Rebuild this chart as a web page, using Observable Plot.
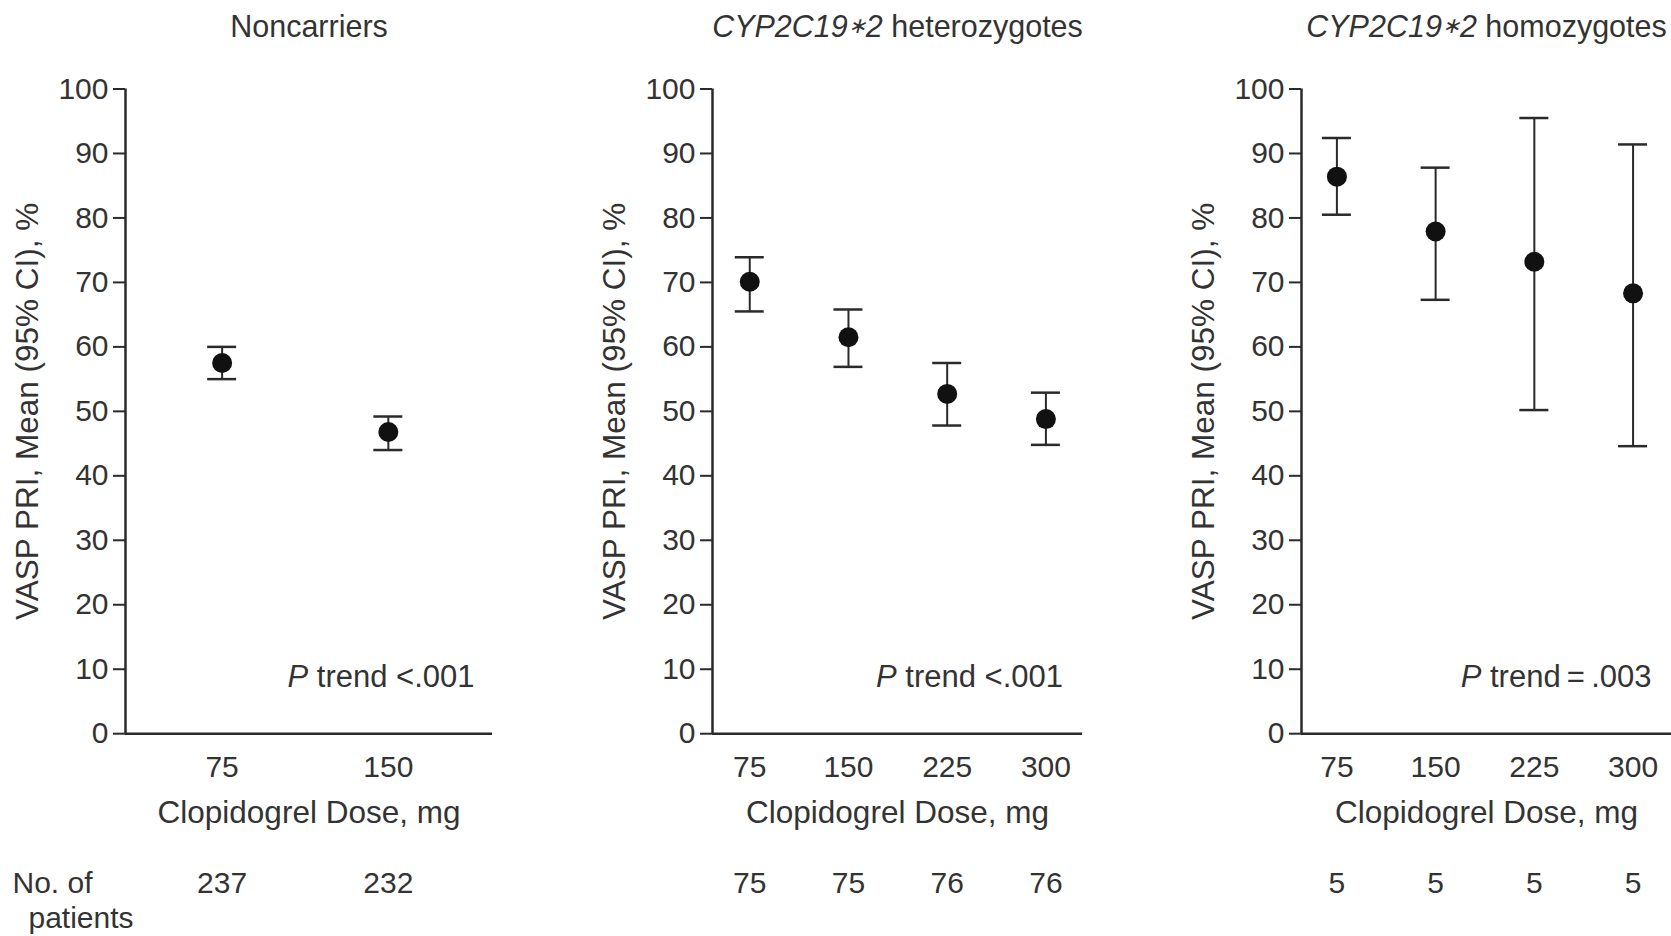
<!DOCTYPE html>
<html><head><meta charset="utf-8">
<script src="https://cdn.jsdelivr.net/npm/d3@7"></script>
<script src="https://cdn.jsdelivr.net/npm/@observablehq/plot@0.6"></script>
<style>
body{margin:0;background:#fff;}
#wrap{position:relative;width:1671px;height:936px;overflow:hidden;background:#fff;}
#wrap svg{position:absolute;top:0;overflow:visible;}
</style></head><body><div id="wrap"></div>
<script>
// ---- data ----
const titleItalic = ["", "CYP2C19\u22172", "CYP2C19\u22172"];
const titleRest = ["Noncarriers", " heterozygotes", " homozygotes"];
const pItalic = "P";
const pRest = [" trend <.001", " trend <.001", " trend\u2009=\u2009.003"];

const doses1 = [75, 150];
const mean1 = [57.5, 46.8];
const lower1 = [55.0, 44.0];
const upper1 = [60.0, 49.2];
const n1 = [237, 232];

const doses2 = [75, 150, 225, 300];
const mean2 = [70.1, 61.5, 52.7, 48.8];
const lower2 = [65.5, 56.9, 47.8, 44.8];
const upper2 = [73.9, 65.8, 57.5, 52.9];
const n2 = [75, 75, 76, 76];

const doses3 = [75, 150, 225, 300];
const mean3 = [86.4, 77.9, 73.2, 68.3];
const lower3 = [80.5, 67.3, 50.2, 44.6];
const upper3 = [92.4, 87.8, 95.5, 91.4];
const n3 = [5, 5, 5, 5];

const yTicks = [0, 10, 20, 30, 40, 50, 60, 70, 80, 90, 100];
const yLabel = "VASP PRI, Mean (95% CI), %";
const xLabel = "Clopidogrel Dose, mg";
const countLabel1 = "No. of";
const countLabel2 = "patients";

// ---- build ----
const series = [
  {doses: doses1, mean: mean1, lower: lower1, upper: upper1, n: n1},
  {doses: doses2, mean: mean2, lower: lower2, upper: upper2, n: n2},
  {doses: doses3, mean: mean3, lower: lower3, upper: upper3, n: n3}
];
const layout = [
  {left: 0, width: 560, ml: 125, mr: 68, domain: [31.4, 197], pdx: -18},
  {left: 560, width: 555, ml: 152, mr: 33, domain: [46.7, 327.8], pdx: -19.5},
  {left: 1115, width: 556, ml: 186, mr: 0, domain: [48.1, 329.2], pdx: -20}
];
const FONT = "'Liberation Sans', Arial, Helvetica, sans-serif";
const TXT = "#333";
const INK = "#2a2a2a";
const FS = 30;
const NS = "http://www.w3.org/2000/svg";
const wrap = document.getElementById("wrap");

function tspan(txt, attrs) {
  const el = document.createElementNS(NS, "tspan");
  el.textContent = txt;
  for (const k in attrs) el.setAttribute(k, attrs[k]);
  return el;
}

series.forEach((s, k) => {
  const L = layout[k];
  const data = s.doses.map((d, i) => ({dose: d, mean: s.mean[i], lower: s.lower[i], upper: s.upper[i], n: s.n[i]}));
  const marks = [
    Plot.axisY({ticks: yTicks, tickSize: 12, tickPadding: 5, fontSize: FS, label: null, stroke: INK, fill: TXT, strokeWidth: 2}),
    Plot.axisX({ticks: s.doses, tickSize: 0, tickPadding: 22, fontSize: FS, label: null, fill: TXT, tickFormat: d => String(d)}),
    Plot.ruleY([0], {stroke: INK, strokeWidth: 2.5}),
    Plot.ruleX([L.domain[0]], {stroke: INK, strokeWidth: 2.5}),
    Plot.ruleX(data, {x: "dose", y1: "lower", y2: "upper", stroke: INK, strokeWidth: 2}),
    Plot.ruleY(data, {y: "lower", x1: "dose", x2: "dose", insetLeft: -14.5, insetRight: -14.5, stroke: INK, strokeWidth: 2.5}),
    Plot.ruleY(data, {y: "upper", x1: "dose", x2: "dose", insetLeft: -14.5, insetRight: -14.5, stroke: INK, strokeWidth: 2.5}),
    Plot.dot(data, {x: "dose", y: "mean", r: 10, fill: "#111", stroke: "none"}),
    Plot.text([titleItalic[k] + titleRest[k]], {frameAnchor: "top", lineAnchor: "middle", textAnchor: "middle", dy: -62, fontSize: 30.5, fill: TXT, ariaLabel: () => "title"}),
    Plot.text([pItalic + pRest[k]], {frameAnchor: "bottom-right", lineAnchor: "middle", textAnchor: "end", dx: L.pdx, dy: -56.5, fontSize: 31, fill: TXT, ariaLabel: () => "ptrend"}),
    Plot.text([xLabel], {frameAnchor: "bottom", lineAnchor: "middle", textAnchor: "middle", dy: 79, fontSize: 31.5, fill: TXT}),
    Plot.text(data, {x: "dose", text: d => String(d.n), frameAnchor: "bottom", lineAnchor: "middle", textAnchor: "middle", dy: 150, fontSize: FS, fill: TXT}),
    Plot.text([yLabel], {frameAnchor: "left", lineAnchor: "middle", textAnchor: "middle", rotate: -90, dx: -98, fontSize: 31.5, fill: TXT})
  ];
  if (k === 0) {
    marks.push(Plot.text([countLabel1], {frameAnchor: "bottom-left", lineAnchor: "middle", textAnchor: "start", dx: -113, dy: 150, fontSize: FS, fill: TXT}));
    marks.push(Plot.text([countLabel2], {frameAnchor: "bottom-left", lineAnchor: "middle", textAnchor: "start", dx: -97, dy: 185, fontSize: FS, fill: TXT}));
  }
  const svg = Plot.plot({
    width: L.width, height: 936,
    marginLeft: L.ml, marginRight: L.mr, marginTop: 88.5, marginBottom: 202.8,
    x: {type: "linear", domain: L.domain},
    y: {domain: [0, 100]},
    style: {fontFamily: FONT, background: "transparent", overflow: "visible"},
    marks
  });
  svg.style.left = L.left + "px";
  // italic runs
  const t = svg.querySelector('text[aria-label="title"]');
  if (t && titleItalic[k]) {
    const it = titleItalic[k];
    const star = it.indexOf("\u2217");
    t.textContent = "";
    t.appendChild(tspan(it.slice(0, star), {"font-style": "italic"}));
    t.appendChild(tspan("\u2217", {"font-style": "italic", "font-size": "22px", "dy": "-4"}));
    t.appendChild(tspan(it.slice(star + 1), {"font-style": "italic", "dy": "4"}));
    t.appendChild(tspan(titleRest[k], {}));
  }
  const p = svg.querySelector('text[aria-label="ptrend"]');
  if (p) {
    p.textContent = "";
    p.appendChild(tspan(pItalic, {"font-style": "italic"}));
    p.appendChild(tspan(pRest[k], {}));
  }
  wrap.appendChild(svg);
});
</script>
</body></html>
